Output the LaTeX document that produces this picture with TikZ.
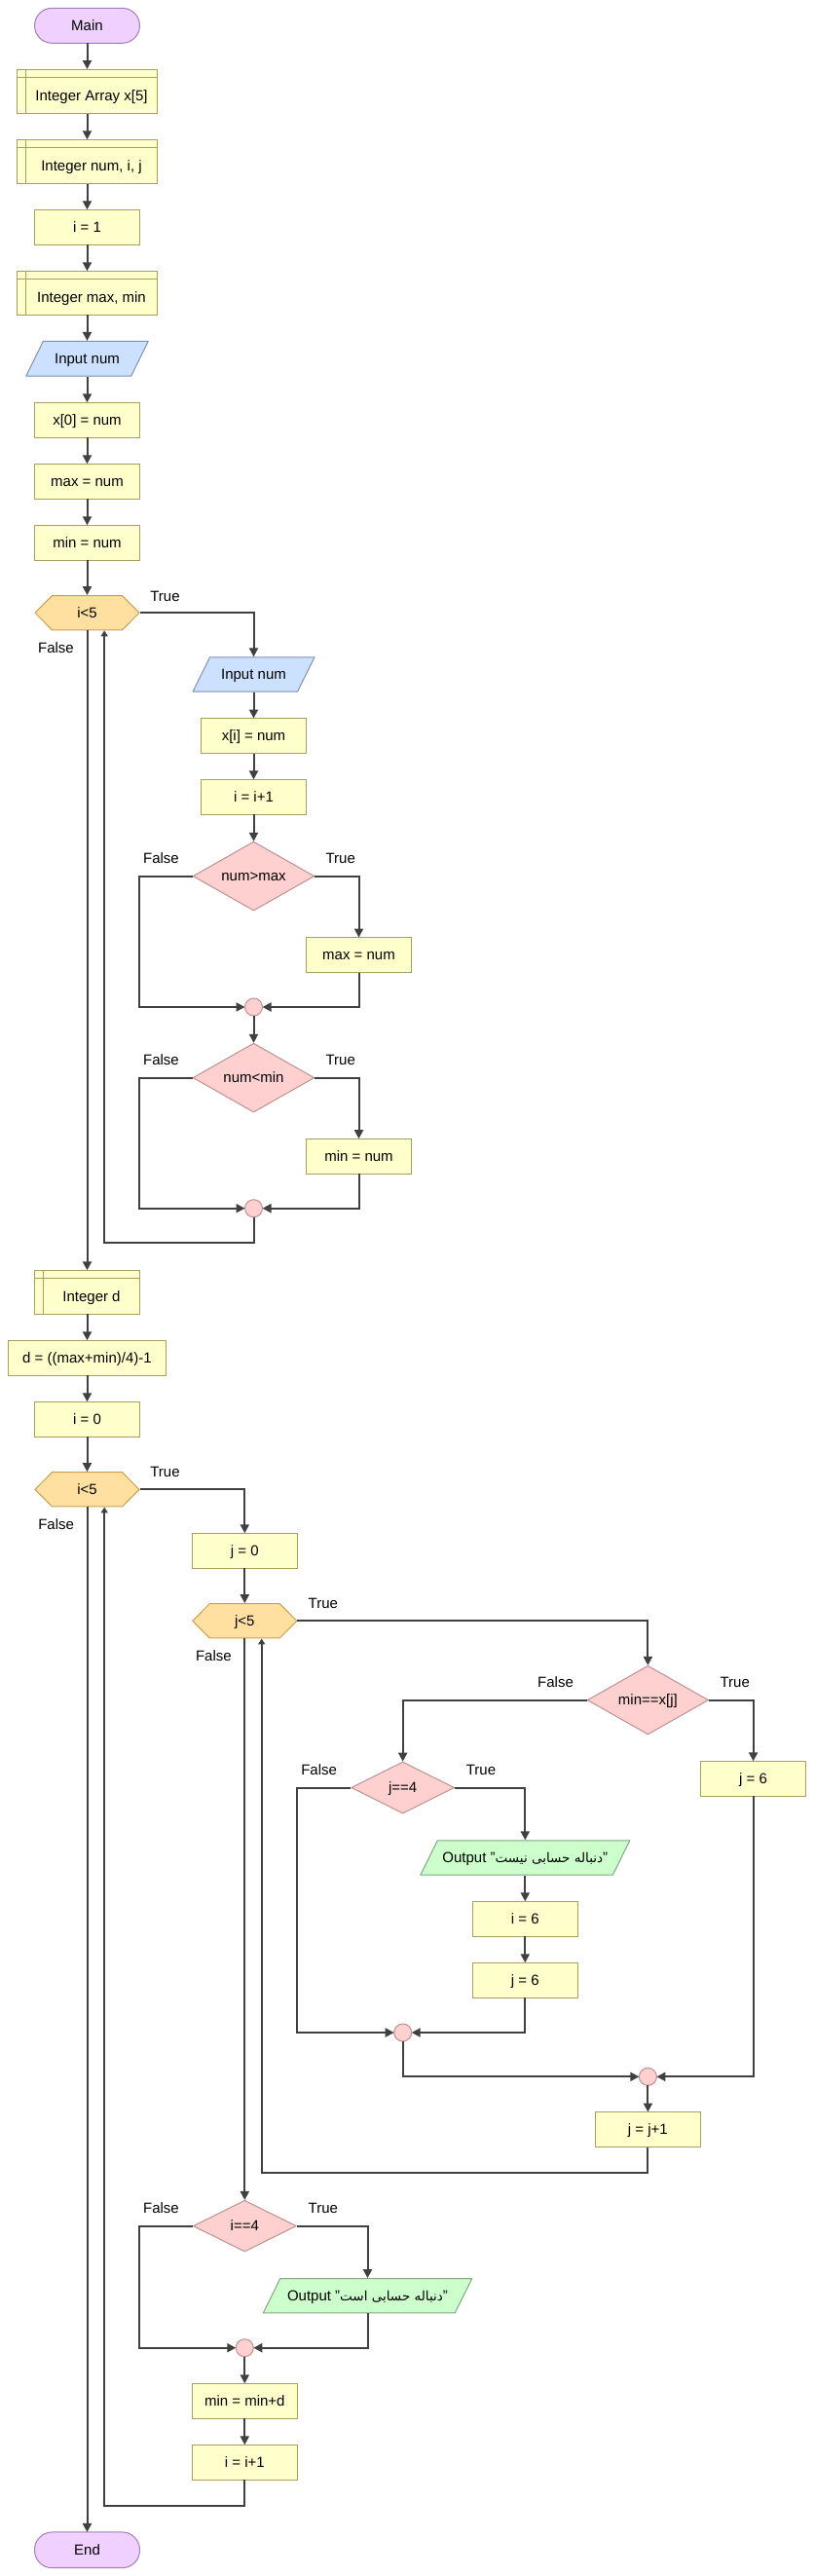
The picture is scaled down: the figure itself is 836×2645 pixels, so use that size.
\documentclass[tikz,border=0pt]{standalone}
\usepackage{fontspec}
\setmainfont{Liberation Sans}
\newfontfamily\arabicfont[Script=Arabic,Scale=0.9]{DejaVu Sans}
\TeXXeTstate=1
\usetikzlibrary{arrows.meta}
\definecolor{termfill}{HTML}{F0D0FF}
\definecolor{termline}{HTML}{A080B8}
\definecolor{procfill}{HTML}{FFFFCC}
\definecolor{procline}{HTML}{A8A060}
\definecolor{infill}{HTML}{CCE0FF}
\definecolor{inline}{HTML}{8090B0}
\definecolor{hexfill}{HTML}{FFE0A0}
\definecolor{hexline}{HTML}{C8A050}
\definecolor{diafill}{HTML}{FFD0D0}
\definecolor{dialine}{HTML}{C09090}
\definecolor{outfill}{HTML}{CCFFCC}
\definecolor{outline}{HTML}{80A880}
\definecolor{linec}{HTML}{404040}
\tikzset{
  base/.style={rectangle, inner sep=0pt, outer sep=0pt, text height=10.7pt, text depth=0pt},
  term/.style={base, rounded corners=18pt, draw=termline, fill=termfill, line width=1pt, minimum width=108pt, minimum height=36pt},
  proc/.style={base, draw=procline, fill=procfill, line width=1pt, minimum width=108pt, minimum height=36pt},
  decl/.style={proc, minimum width=144pt, minimum height=45.5pt, text height=19.7pt,
    execute at begin node={\hspace*{9pt}},
    path picture={
      \draw[procline, line width=1pt] ([xshift=9pt]path picture bounding box.north west) -- ([xshift=9pt]path picture bounding box.south west);
      \draw[procline, line width=1pt] ([yshift=-8.5pt]path picture bounding box.north west) -- ([yshift=-8.5pt]path picture bounding box.north east);}},
  hexa/.style={base, minimum width=108pt, minimum height=36.3pt,
    path picture={\path[fill=hexfill, draw=hexline, line width=1pt]
      ([xshift=0.5pt]path picture bounding box.west) --
      ([xshift=18pt,yshift=-0.5pt]path picture bounding box.north west) --
      ([xshift=-18pt,yshift=-0.5pt]path picture bounding box.north east) --
      ([xshift=-0.5pt]path picture bounding box.east) --
      ([xshift=-18pt,yshift=0.5pt]path picture bounding box.south east) --
      ([xshift=18pt,yshift=0.5pt]path picture bounding box.south west) -- cycle;}},
  dia/.style={base,
    path picture={\path[fill=diafill, draw=dialine, line width=1pt]
      ([yshift=-0.5pt]path picture bounding box.north) --
      ([xshift=-0.5pt]path picture bounding box.east) --
      ([yshift=0.5pt]path picture bounding box.south) --
      ([xshift=0.5pt]path picture bounding box.west) -- cycle;}},
  parashape/.style 2 args={base, minimum height=36.3pt,
    path picture={\path[fill=#1, draw=#2, line width=1pt]
      ([xshift=0.5pt,yshift=0.5pt]path picture bounding box.south west) --
      ([xshift=18pt,yshift=-0.5pt]path picture bounding box.north west) --
      ([xshift=-0.5pt,yshift=-0.5pt]path picture bounding box.north east) --
      ([xshift=-18pt,yshift=0.5pt]path picture bounding box.south east) -- cycle;}},
  inp/.style={parashape={infill}{inline}, minimum width=126.4pt},
  outp/.style={parashape={outfill}{outline}, minimum width=216pt},
  merge/.style={circle, draw=dialine, fill=diafill, line width=1pt, minimum size=18pt, inner sep=0pt, outer sep=0pt},
  lbl/.style={inner sep=0pt, text height=10.7pt, text depth=0pt},
  arr/.style={draw=linec, line width=2pt, -{Triangle[length=9pt,width=9pt]}},
  back/.style={draw=linec, line width=2pt, -{Triangle[length=6pt,width=7pt]}},
}
\begin{document}
\begin{tikzpicture}[x=1pt, y=-1pt, font=\fontsize{15pt}{18pt}\selectfont]
\useasboundingbox (0,0) rectangle (836,2645);
\fill[white] (0,0) rectangle (836,2645);
% main column
\node[term] (main) at (89.5,26.3) {Main};
\node[decl, minimum height=45.6pt] (dArr) at (89.5,93.8) {Integer Array x[5]};
\node[decl] (dNum) at (89.5,166) {Integer num, i, j};
\node[proc] (i1) at (89.5,233.3) {i = 1};
\node[decl, minimum height=45pt] (dMax) at (89.5,300.8) {Integer max, min};
\node[inp, minimum height=36.7pt] (in1) at (89.5,368.3) {Input num};
\node[proc] (x0) at (89.5,431.3) {x[0] = num};
\node[proc] (mx) at (89.5,494.3) {max = num};
\node[proc] (mn) at (89.5,557.3) {min = num};
\node[hexa] (hex1) at (89.5,629.2) {i<5};
% first loop body
\node[inp, minimum width=126pt] (in2) at (260.5,692.5) {Input num};
\node[proc] (xi) at (260.5,755.5) {x[i] = num};
\node[proc] (ii1) at (260.5,818.4) {i = i+1};
\node[dia, minimum width=125.3pt, minimum height=71.5pt] (d1) at (260.5,899.6) {num>max};
\node[proc] (mx2) at (368.5,980.5) {max = num};
\node[merge] (c1) at (260.5,1034) {};
\node[dia, minimum width=125.3pt, minimum height=71.5pt] (d2) at (260.5,1106.6) {num<min};
\node[proc] (mn2) at (368.5,1187.2) {min = num};
\node[merge] (c2) at (260.5,1240.7) {};
% second part
\node[decl, minimum width=107.2pt, minimum height=45pt] (dD) at (89.5,1326.8) {Integer d};
\node[proc, minimum width=162pt] (dAs) at (89.5,1394.3) {d = ((max+min)/4)-1};
\node[proc] (i0) at (89.5,1457.3) {i = 0};
\node[hexa] (hex2) at (89.5,1529.3) {i<5};
\node[proc] (j0) at (251.3,1592.3) {j = 0};
\node[hexa] (hex3) at (251.3,1664.3) {j<5};
\node[dia, minimum width=125pt, minimum height=71.3pt] (d3) at (665.4,1745.6) {min==x[j]};
\node[dia, minimum width=106.6pt, minimum height=53.6pt] (d4) at (413.7,1835.5) {j==4};
\node[proc] (j6a) at (773.6,1826.3) {j = 6};
\node[outp] (out1) at (539.3,1907.5) {Output "{\arabicfont\beginR دنباله حسابی نیست\endR}"};
\node[proc] (i6) at (539.3,1970.3) {i = 6};
\node[proc] (j6b) at (539.3,2033.3) {j = 6};
\node[merge] (c3) at (413.7,2087) {};
\node[merge] (c4) at (665.4,2132.3) {};
\node[proc] (jj1) at (665.4,2186.5) {j = j+1};
\node[dia, minimum width=106.7pt, minimum height=53.3pt] (d5) at (251.3,2285.6) {i==4};
\node[outp, minimum width=215.4pt] (out2) at (377.5,2357.3) {Output "{\arabicfont\beginR دنباله حسابی است\endR}"};
\node[merge] (c5) at (251.3,2410.7) {};
\node[proc] (mnd) at (251.3,2465.3) {min = min+d};
\node[proc] (ii2) at (251.3,2528.3) {i = i+1};
\node[term, minimum height=36.7pt] (end) at (89.5,2618.3) {End};
% bend coordinates
\coordinate (fl1) at (142.9,1034);
\coordinate (fl2) at (142.9,1240.7);
\coordinate (r1) at (107.2,1276.4);
\coordinate (fl3) at (305,2087);
\coordinate (r2) at (268.7,2230.7);
\coordinate (fl4) at (142.9,2410.7);
\coordinate (r3) at (107.2,2572.7);
% connectors
\draw[arr] (main) -- (dArr);
\draw[arr] (dArr) -- (dNum);
\draw[arr] (dNum) -- (i1);
\draw[arr] (i1) -- (dMax);
\draw[arr] (dMax) -- (in1);
\draw[arr] (in1) -- (x0);
\draw[arr] (x0) -- (mx);
\draw[arr] (mx) -- (mn);
\draw[arr] (mn) -- (hex1);
\draw[arr] (hex1.east) -| (in2.north);
\draw[arr] (in2) -- (xi);
\draw[arr] (xi) -- (ii1);
\draw[arr] (ii1) -- (d1);
\draw[arr] (d1.west) -| (fl1) -- (c1.west);
\draw[arr] (d1.east) -| (mx2.north);
\draw[arr] (mx2.south) |- (c1.east);
\draw[arr] (c1) -- (d2);
\draw[arr] (d2.west) -| (fl2) -- (c2.west);
\draw[arr] (d2.east) -| (mn2.north);
\draw[arr] (mn2.south) |- (c2.east);
\draw[back] (c2.south) |- (r1) -- (r1 |- hex1.south);
\draw[arr] (hex1.south) -- (dD.north);
\draw[arr] (dD) -- (dAs);
\draw[arr] (dAs) -- (i0);
\draw[arr] (i0) -- (hex2);
\draw[arr] (hex2.east) -| (j0.north);
\draw[arr] (j0) -- (hex3);
\draw[arr] (hex3.east) -| (d3.north);
\draw[arr] (d3.west) -| (d4.north);
\draw[arr] (d3.east) -| (j6a.north);
\draw[arr] (d4.west) -| (fl3) -- (c3.west);
\draw[arr] (d4.east) -| (out1.north);
\draw[arr] (out1) -- (i6);
\draw[arr] (i6) -- (j6b);
\draw[arr] (j6b.south) |- (c3.east);
\draw[arr] (c3.south) |- (c4.west);
\draw[arr] (j6a.south) |- (c4.east);
\draw[arr] (c4) -- (jj1);
\draw[back] (jj1.south) |- (r2) -- (r2 |- hex3.south);
\draw[arr] (hex3.south) -- (d5.north);
\draw[arr] (d5.west) -| (fl4) -- (c5.west);
\draw[arr] (d5.east) -| (out2.north);
\draw[arr] (out2.south) |- (c5.east);
\draw[arr] (c5) -- (mnd);
\draw[arr] (mnd) -- (ii2);
\draw[back] (ii2.south) |- (r3) -- (r3 |- hex2.south);
\draw[arr] (hex2.south) -- (end.north);
% labels
\node[lbl] (t1) at (169.5,611.7) {True};
\node[lbl] (f1) at (57.5,665) {False};
\node[lbl] (f2) at (165.5,881.3) {False};
\node[lbl] (t2) at (349.7,881.3) {True};
\node[lbl] (f3) at (165.5,1088) {False};
\node[lbl] (t3) at (349.7,1088) {True};
\node[lbl] (t4) at (169.5,1511.3) {True};
\node[lbl] (f4) at (57.6,1565.3) {False};
\node[lbl] (t5) at (331.8,1646.3) {True};
\node[lbl] (f5) at (219.4,1700) {False};
\node[lbl] (f6) at (570.5,1727.3) {False};
\node[lbl] (t6) at (754.7,1727.3) {True};
\node[lbl] (f7) at (327.6,1817.3) {False};
\node[lbl] (t7) at (494,1817.3) {True};
\node[lbl] (f8) at (165.5,2267.3) {False};
\node[lbl] (t8) at (331.8,2267.3) {True};
\end{tikzpicture}
\end{document}
